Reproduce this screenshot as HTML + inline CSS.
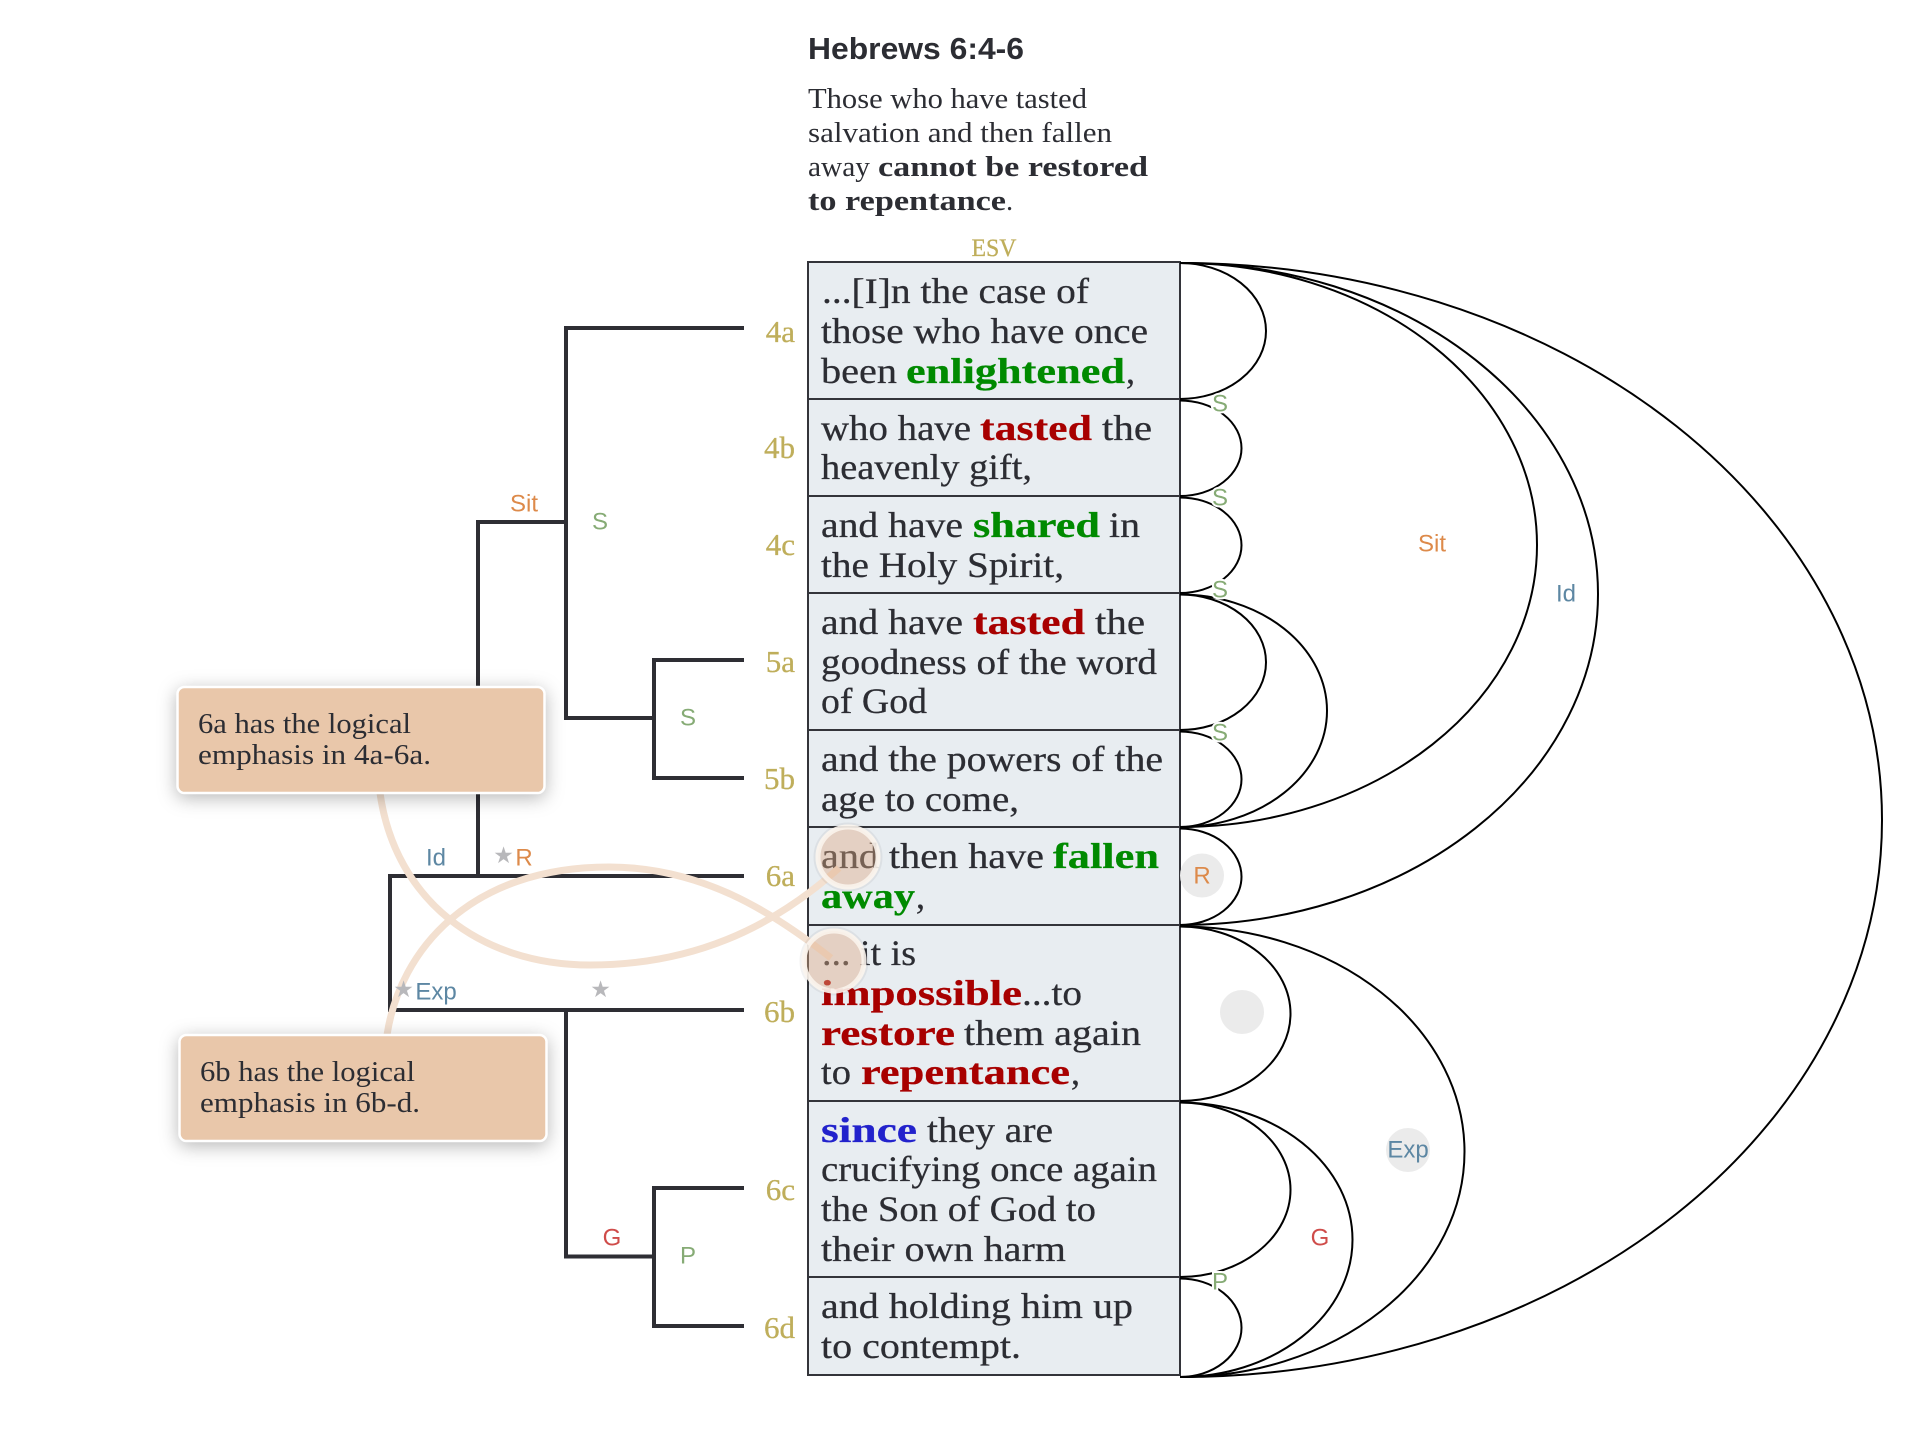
<!DOCTYPE html>
<html><head><meta charset="utf-8"><title>Hebrews 6:4-6</title>
<style>
html,body{margin:0;padding:0;background:#fff;width:1920px;height:1456px;overflow:hidden}
svg{display:block}
.t{font-family:"Liberation Serif",serif;font-size:36px;fill:#2c2d33;stroke:#2c2d33;stroke-width:.25px}
.b{font-weight:bold}
.gr{fill:#008a00;stroke:#008a00;font-weight:bold}
.rd{fill:#a80000;stroke:#a80000;font-weight:bold}
.bl{fill:#2222cc;stroke:#2222cc;font-weight:bold}
.sub{font-family:"Liberation Serif",serif;font-size:28.5px;fill:#2c2d33}
.v{font-family:"Liberation Serif",serif;font-size:31px;fill:#bfae5b;stroke:#bfae5b;stroke-width:.3px;text-anchor:end}
.c{font-family:"Liberation Serif",serif;font-size:28.5px;fill:#2c2d33}
.l{font-family:"Liberation Sans",sans-serif;font-size:24px;text-anchor:middle;dominant-baseline:central}
.h{paint-order:stroke;stroke:#fff;stroke-width:4px}
.o{fill:#dd8a4a}.g{fill:#86ab75}.i{fill:#5d87a3}.r{fill:#cf4c4a}
.s{font-family:"DejaVu Sans",sans-serif;font-size:23px;fill:#b8b8bb;text-anchor:middle;dominant-baseline:central}
.k{fill:none;stroke:#2e2e34;stroke-width:4}
.a{fill:none;stroke:#000;stroke-width:2}
</style></head><body>
<svg width="1920" height="1456" viewBox="0 0 1920 1456" xmlns="http://www.w3.org/2000/svg">

<text x="808" y="59" font-family="Liberation Sans" font-weight="bold" font-size="31" fill="#2c2d33" textLength="216" lengthAdjust="spacingAndGlyphs">Hebrews 6:4-6</text>
<text class="sub" x="808" y="108" textLength="279" lengthAdjust="spacingAndGlyphs">Those who have tasted</text>
<text class="sub" x="808" y="142" textLength="304" lengthAdjust="spacingAndGlyphs">salvation and then fallen</text>
<text class="sub" x="808" y="176" textLength="62" lengthAdjust="spacingAndGlyphs">away</text>
<text class="sub b" x="878" y="176" textLength="270" lengthAdjust="spacingAndGlyphs">cannot be restored</text>
<text class="sub b" x="808" y="210" textLength="198" lengthAdjust="spacingAndGlyphs">to repentance</text>
<text class="sub" x="1006" y="210">.</text>
<text x="994" y="256" font-family="Liberation Serif" font-size="25" fill="#bfae5b" stroke="#bfae5b" stroke-width=".3" text-anchor="middle" textLength="45" lengthAdjust="spacingAndGlyphs">ESV</text>

<!-- table -->
<rect x="808" y="262" width="372" height="1113" fill="#e8edf1" stroke="#33343a" stroke-width="2"/>
<g stroke="#33343a" stroke-width="2">
<line x1="808" x2="1180" y1="399" y2="399"/>
<line x1="808" x2="1180" y1="496" y2="496"/>
<line x1="808" x2="1180" y1="593" y2="593"/>
<line x1="808" x2="1180" y1="730" y2="730"/>
<line x1="808" x2="1180" y1="827" y2="827"/>
<line x1="808" x2="1180" y1="925" y2="925"/>
<line x1="808" x2="1180" y1="1101" y2="1101"/>
<line x1="808" x2="1180" y1="1277" y2="1277"/>
</g>

<!-- table text -->
<text class="t" x="822" y="303" textLength="267" lengthAdjust="spacingAndGlyphs">...[I]n the case of</text>
<text class="t" x="821" y="343" textLength="327" lengthAdjust="spacingAndGlyphs">those who have once</text>
<text class="t" x="821" y="383" textLength="76" lengthAdjust="spacingAndGlyphs">been</text>
<text class="t gr" x="906" y="383" textLength="219" lengthAdjust="spacingAndGlyphs">enlightened</text>
<text class="t" x="1126" y="383">,</text>

<text class="t" x="821" y="440" textLength="150" lengthAdjust="spacingAndGlyphs">who have</text>
<text class="t rd" x="980" y="440" textLength="112" lengthAdjust="spacingAndGlyphs">tasted</text>
<text class="t" x="1102" y="440" textLength="50" lengthAdjust="spacingAndGlyphs">the</text>
<text class="t" x="821" y="479" textLength="211" lengthAdjust="spacingAndGlyphs">heavenly gift,</text>

<text class="t" x="821" y="537" textLength="142" lengthAdjust="spacingAndGlyphs">and have</text>
<text class="t gr" x="973" y="537" textLength="127" lengthAdjust="spacingAndGlyphs">shared</text>
<text class="t" x="1109" y="537" textLength="31" lengthAdjust="spacingAndGlyphs">in</text>
<text class="t" x="821" y="577" textLength="243" lengthAdjust="spacingAndGlyphs">the Holy Spirit,</text>

<text class="t" x="821" y="634" textLength="142" lengthAdjust="spacingAndGlyphs">and have</text>
<text class="t rd" x="973" y="634" textLength="112" lengthAdjust="spacingAndGlyphs">tasted</text>
<text class="t" x="1095" y="634" textLength="50" lengthAdjust="spacingAndGlyphs">the</text>
<text class="t" x="821" y="674" textLength="336" lengthAdjust="spacingAndGlyphs">goodness of the word</text>
<text class="t" x="821" y="713" textLength="106" lengthAdjust="spacingAndGlyphs">of God</text>

<text class="t" x="821" y="771" textLength="342" lengthAdjust="spacingAndGlyphs">and the powers of the</text>
<text class="t" x="821" y="811" textLength="198" lengthAdjust="spacingAndGlyphs">age to come,</text>

<text class="t" x="821" y="868" textLength="223" lengthAdjust="spacingAndGlyphs">and then have</text>
<text class="t gr" x="1053" y="868" textLength="106" lengthAdjust="spacingAndGlyphs">fallen</text>
<text class="t gr" x="821" y="908" textLength="94" lengthAdjust="spacingAndGlyphs">away</text>
<text class="t" x="916" y="908">,</text>

<text class="t" x="822" y="965" textLength="94" lengthAdjust="spacingAndGlyphs">... it is</text>
<text class="t rd" x="821" y="1005" textLength="201" lengthAdjust="spacingAndGlyphs">impossible</text>
<text class="t" x="1022" y="1005" textLength="60" lengthAdjust="spacingAndGlyphs">...to</text>
<text class="t rd" x="821" y="1045" textLength="134" lengthAdjust="spacingAndGlyphs">restore</text>
<text class="t" x="964" y="1045" textLength="177" lengthAdjust="spacingAndGlyphs">them again</text>
<text class="t" x="821" y="1084" textLength="30" lengthAdjust="spacingAndGlyphs">to</text>
<text class="t rd" x="861" y="1084" textLength="209" lengthAdjust="spacingAndGlyphs">repentance</text>
<text class="t" x="1071" y="1084">,</text>

<text class="t bl" x="821" y="1142" textLength="96" lengthAdjust="spacingAndGlyphs">since</text>
<text class="t" x="927" y="1142" textLength="126" lengthAdjust="spacingAndGlyphs">they are</text>
<text class="t" x="821" y="1181" textLength="336" lengthAdjust="spacingAndGlyphs">crucifying once again</text>
<text class="t" x="821" y="1221" textLength="275" lengthAdjust="spacingAndGlyphs">the Son of God to</text>
<text class="t" x="821" y="1261" textLength="245" lengthAdjust="spacingAndGlyphs">their own harm</text>

<text class="t" x="821" y="1318" textLength="312" lengthAdjust="spacingAndGlyphs">and holding him up</text>
<text class="t" x="821" y="1358" textLength="200" lengthAdjust="spacingAndGlyphs">to contempt.</text>

<!-- verse labels -->
<text class="v" x="795" y="342">4a</text>
<text class="v" x="795" y="458">4b</text>
<text class="v" x="795" y="555">4c</text>
<text class="v" x="795" y="672">5a</text>
<text class="v" x="795" y="789">5b</text>
<text class="v" x="795" y="886">6a</text>
<text class="v" x="795" y="1022">6b</text>
<text class="v" x="795" y="1200">6c</text>
<text class="v" x="795" y="1338">6d</text>

<!-- arcs -->
<path class="a" d="M1180 263A86 68 0 0 1 1180 399"/>
<path class="a" d="M1180 400.5A61.5 47.75 0 0 1 1180 496"/>
<path class="a" d="M1180 497.5A61.5 47.75 0 0 1 1180 593"/>
<path class="a" d="M1180 594.5A86 67.75 0 0 1 1180 730"/>
<path class="a" d="M1180 731.5A61.5 47.75 0 0 1 1180 827"/>
<path class="a" d="M1180 594.5A147 116.25 0 0 1 1180 827"/>
<path class="a" d="M1180 263A357 282 0 0 1 1180 827"/>
<path class="a" d="M1180 263A418 331 0 0 1 1180 925"/>
<path class="a" d="M1180 828.5A61.5 48.25 0 0 1 1180 925"/>
<path class="a" d="M1180 263A702 557 0 0 1 1180 1377"/>
<path class="a" d="M1180 926.5A110.5 87.25 0 0 1 1180 1101"/>
<path class="a" d="M1180 1102.5A110.5 87.25 0 0 1 1180 1277"/>
<path class="a" d="M1180 1102.5A172.5 137.25 0 0 1 1180 1377"/>
<path class="a" d="M1180 926.5A284.5 225.25 0 0 1 1180 1377"/>
<path class="a" d="M1180 1278.5A61.5 49.25 0 0 1 1180 1377"/>

<!-- arc labels -->
<circle cx="1202" cy="875.5" r="22" fill="#ebebeb"/>
<circle cx="1242" cy="1012" r="22" fill="#ebebeb"/>
<circle cx="1408" cy="1150" r="22" fill="#ebebeb"/>
<text class="l g h" x="1220" y="404">S</text>
<text class="l g h" x="1220" y="498">S</text>
<text class="l g h" x="1220" y="590">S</text>
<text class="l g h" x="1220" y="733">S</text>
<text class="l g h" x="1220" y="1282">P</text>
<text class="l o" x="1202" y="876">R</text>
<text class="l i" x="1408" y="1150">Exp</text>
<text class="l r" x="1320" y="1238">G</text>
<text class="l o" x="1432" y="544">Sit</text>
<text class="l i" x="1566" y="594">Id</text>

<!-- bracket tree -->
<path class="k" d="M744 328H566V718H654"/>
<path class="k" d="M744 660H654V778H744"/>
<path class="k" d="M566 522H478V876"/>
<path class="k" d="M744 876H390V1010H744"/>
<path class="k" d="M566 1010V1256.500H654"/>
<path class="k" d="M744 1188H654V1326H744"/>

<text class="l o" x="524" y="504">Sit</text>
<text class="l g" x="600" y="522">S</text>
<text class="l g" x="688" y="718">S</text>
<text class="l i" x="436" y="858">Id</text>
<text class="l o" x="524" y="858">R</text>
<text class="l i" x="436" y="992">Exp</text>
<text class="l r" x="612" y="1238">G</text>
<text class="l g" x="688" y="1256">P</text>

<!-- connectors -->
<path d="M380 793C395 900 480 965 590 965C690 965 770 930 839 868" fill="none" stroke="#f3e0d0" stroke-width="7"/>
<path d="M387 1035C400 950 470 867 609 867C700 867 770 910 831 958" fill="none" stroke="#f3e0d0" stroke-width="7"/>

<text class="s" x="503.500" y="856">★</text>
<text class="s" x="403.500" y="990">★</text>
<text class="s" x="600.500" y="990">★</text>

<!-- callouts -->
<rect x="177.500" y="687" width="367" height="106" rx="7" fill="#e9c7aa" stroke="#fff" stroke-width="2.500" style="filter:drop-shadow(0 4px 9px rgba(0,0,0,.28))"/>
<text class="c" x="198" y="733" textLength="213" lengthAdjust="spacingAndGlyphs">6a has the logical</text>
<text class="c" x="198" y="764" textLength="233" lengthAdjust="spacingAndGlyphs">emphasis in 4a-6a.</text>
<rect x="179.500" y="1035" width="367" height="106" rx="7" fill="#e9c7aa" stroke="#fff" stroke-width="2.500" style="filter:drop-shadow(0 4px 9px rgba(0,0,0,.28))"/>
<text class="c" x="200" y="1081" textLength="215" lengthAdjust="spacingAndGlyphs">6b has the logical</text>
<text class="c" x="200" y="1112" textLength="220" lengthAdjust="spacingAndGlyphs">emphasis in 6b-d.</text>

<!-- highlight dots -->
<circle cx="848" cy="857" r="33.500" fill="none" stroke="rgba(0,0,0,.05)" stroke-width="2"/>
<circle cx="834" cy="961" r="33.500" fill="none" stroke="rgba(0,0,0,.05)" stroke-width="2"/>
<circle cx="848" cy="857" r="30" fill="rgba(222,170,130,.42)" stroke="rgba(250,243,236,.9)" stroke-width="5"/>
<circle cx="834" cy="961" r="30" fill="rgba(222,170,130,.42)" stroke="rgba(250,243,236,.9)" stroke-width="5"/>
</svg>
</body></html>
